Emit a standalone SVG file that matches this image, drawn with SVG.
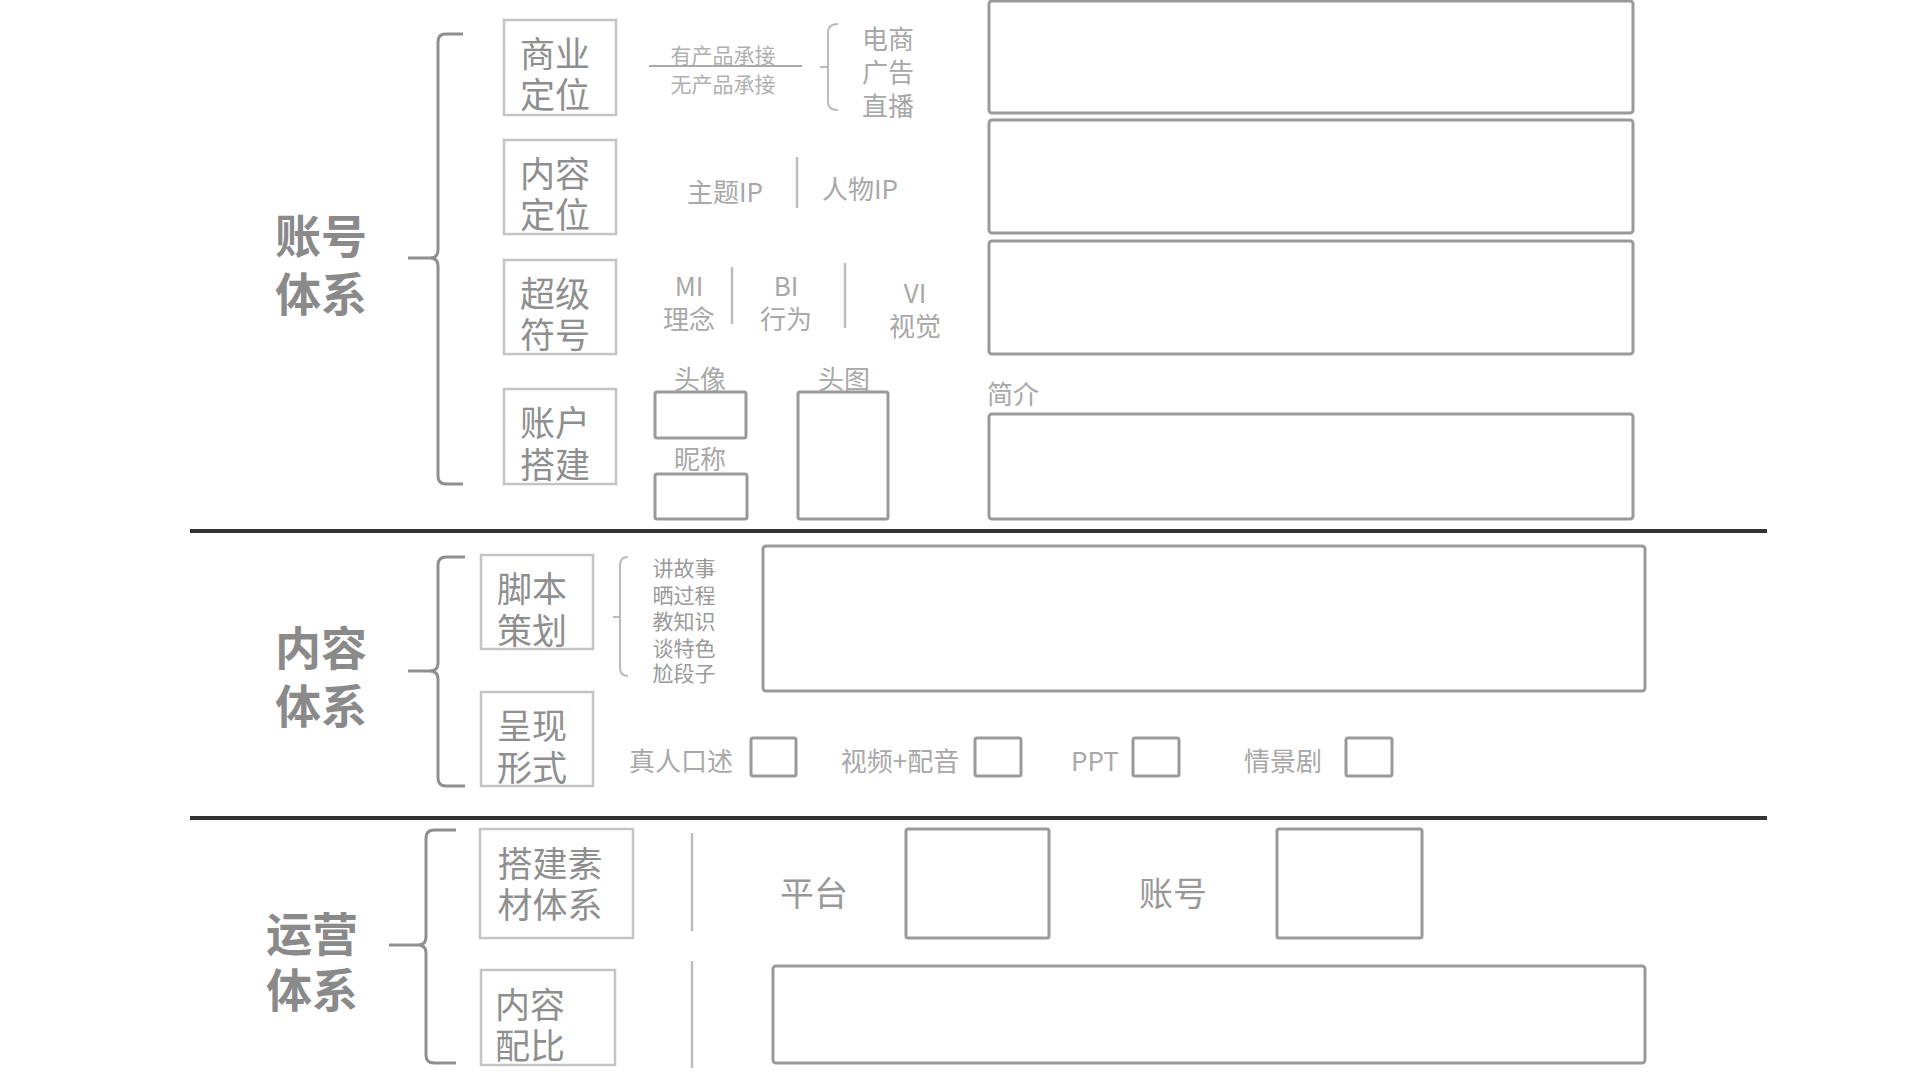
<svg xmlns="http://www.w3.org/2000/svg" width="1920" height="1080" viewBox="0 0 1920 1080">
<style>
text{font-family:"Noto Sans CJK SC","Noto Sans",sans-serif;text-anchor:middle;dominant-baseline:central}
.big{font-size:46px;font-weight:700;fill:#8a8a8a}
.bt{font-size:35px;fill:#8f8f8f}
.sm{font-size:21px;fill:#b0b0b0}
.st{font-size:21px;fill:#9a9a9a}
.md{font-size:26px;fill:#a8a8a8}
.lbl{font-size:34px;fill:#999}
.nb{fill:none;stroke:#c4c4c4;stroke-width:2.5}
.bb{fill:none;stroke:#9a9a9a;stroke-width:3}
.brace{fill:none;stroke:#8f8f8f;stroke-width:3}
.sbr{fill:none;stroke:#bbb;stroke-width:2}
.sep{stroke:#bdbdbd;stroke-width:2.5}
.div{stroke:#333;stroke-width:4}
</style>
<rect width="1920" height="1080" fill="#fff"/>

<g id="connectors">
<path class="brace" d="M463,34 H445 Q438,34 438,42 V250 Q438,258 430,258 H408 M430,258 Q438,258 438,266 V476 Q438,484 446,484 H463"/>
<path class="brace" d="M465,557 H446 Q438,557 438,565 V663 Q438,671 430,671 H408 M430,671 Q438,671 438,679 V778 Q438,786 446,786 H465"/>
<path class="brace" d="M456,830 H434 Q426,830 426,838 V937 Q426,945 418,945 H389 M418,945 Q426,945 426,953 V1055 Q426,1063 434,1063 H456"/>
<path class="sbr" d="M838,24 Q828,24 828,32 V102 Q828,110 838,110 M828,67 H820"/>
<path class="sbr" d="M628,557 Q620,557 620,565 V668 Q620,676 628,676 M620,617 H613"/>
<line x1="649" y1="66" x2="802" y2="66" stroke="#aaa" stroke-width="2"/>
<line class="sep" x1="797" y1="157" x2="797" y2="208"/>
<line class="sep" x1="732" y1="267" x2="732" y2="324"/>
<line class="sep" x1="845" y1="263" x2="845" y2="328"/>
<line class="sep" x1="692" y1="833" x2="692" y2="931"/>
<line class="sep" x1="692" y1="961" x2="692" y2="1068"/>
<line class="div" x1="190" y1="531" x2="1767" y2="531"/>
<line class="div" x1="190" y1="818" x2="1767" y2="818"/>
</g>

<g id="sec1-label"><text class="big" x="321" y="233">账号</text><text class="big" x="321" y="291">体系</text></g>
<g id="sec2-label"><text class="big" x="321" y="645">内容</text><text class="big" x="321" y="703">体系</text></g>
<g id="sec3-label"><text class="big" x="312" y="931">运营</text><text class="big" x="312" y="987">体系</text></g>

<g id="n-shangye"><rect class="nb" x="504" y="20" width="112" height="95"/><text class="bt" x="555" y="51">商业</text><text class="bt" x="555" y="92">定位</text></g>
<g id="n-neirongdw"><rect class="nb" x="504" y="140" width="112" height="94"/><text class="bt" x="555" y="171">内容</text><text class="bt" x="555" y="212">定位</text></g>
<g id="n-chaoji"><rect class="nb" x="504" y="260" width="112" height="94"/><text class="bt" x="555" y="291">超级</text><text class="bt" x="555" y="332">符号</text></g>
<g id="n-zhanghu"><rect class="nb" x="504" y="389" width="112" height="95"/><text class="bt" x="555" y="420">账户</text><text class="bt" x="555" y="462">搭建</text></g>

<g id="t-chengjie"><text class="sm" x="723" y="54">有产品承接</text><text class="sm" x="723" y="83">无产品承接</text></g>
<g id="t-dianshang"><text class="md" x="888" y="37">电商</text><text class="md" x="888" y="70">广告</text><text class="md" x="888" y="104">直播</text></g>
<g id="t-ip"><text class="md" x="725" y="190">主题IP</text><text class="md" x="860" y="187">人物IP</text></g>
<g id="t-mbv"><text class="md" x="689" y="284">MI</text><text class="md" x="689" y="317">理念</text><text class="md" x="786" y="284">BI</text><text class="md" x="786" y="317">行为</text><text class="md" x="915" y="291">VI</text><text class="md" x="915" y="324">视觉</text></g>

<g id="box1"><rect class="bb" x="989" y="1" width="644" height="112" rx="3"/></g>
<g id="box2"><rect class="bb" x="989" y="120" width="644" height="113" rx="3"/></g>
<g id="box3"><rect class="bb" x="989" y="241" width="644" height="113" rx="3"/></g>

<g id="n-touxiang"><text class="md" x="700" y="377">头像</text><rect class="bb" x="655" y="392" width="91" height="46" rx="2"/></g>
<g id="n-nicheng"><text class="md" x="700" y="457">昵称</text><rect class="bb" x="655" y="474" width="92" height="45" rx="2"/></g>
<g id="n-toutu"><text class="md" x="844" y="377">头图</text><rect class="bb" x="798" y="392" width="90" height="127" rx="2"/></g>
<g id="n-jianjie"><text class="md" x="1013" y="392">简介</text><rect class="bb" x="989" y="414" width="644" height="105" rx="3"/></g>

<g id="n-jiaoben"><rect class="nb" x="481" y="555" width="112" height="94"/><text class="bt" x="532" y="586">脚本</text><text class="bt" x="532" y="628">策划</text></g>
<g id="t-types"><text class="st" x="684" y="567">讲故事</text><text class="st" x="684" y="594">晒过程</text><text class="st" x="684" y="620">教知识</text><text class="st" x="684" y="647">谈特色</text><text class="st" x="684" y="672">尬段子</text></g>
<g id="box-jiaoben"><rect class="bb" x="763" y="546" width="882" height="145" rx="3"/></g>
<g id="n-chengxian"><rect class="nb" x="481" y="692" width="112" height="94"/><text class="bt" x="532" y="723">呈现</text><text class="bt" x="532" y="765">形式</text></g>
<g id="opt1"><text class="md" x="681" y="759">真人口述</text><rect class="bb" x="751" y="738" width="45" height="38" rx="2"/></g>
<g id="opt2"><text class="md" x="900" y="759">视频+配音</text><rect class="bb" x="975" y="738" width="46" height="38" rx="2"/></g>
<g id="opt3"><text class="md" x="1095" y="759">PPT</text><rect class="bb" x="1133" y="738" width="46" height="38" rx="2"/></g>
<g id="opt4"><text class="md" x="1283" y="759">情景剧</text><rect class="bb" x="1346" y="738" width="46" height="38" rx="2"/></g>

<g id="n-sucai"><rect class="nb" x="480" y="829" width="153" height="109"/><text class="bt" x="550" y="861">搭建素</text><text class="bt" x="550" y="902">材体系</text></g>
<g id="n-pingtai"><text class="lbl" x="814" y="891">平台</text><rect class="bb" x="906" y="829" width="143" height="109" rx="2"/></g>
<g id="n-zhanghao"><text class="lbl" x="1173" y="891">账号</text><rect class="bb" x="1277" y="829" width="145" height="109" rx="2"/></g>
<g id="n-peibi"><rect class="nb" x="481" y="970" width="134" height="95"/><text class="bt" x="530" y="1002">内容</text><text class="bt" x="530" y="1043">配比</text></g>
<g id="box-peibi"><rect class="bb" x="773" y="966" width="872" height="97" rx="3"/></g>
</svg>
